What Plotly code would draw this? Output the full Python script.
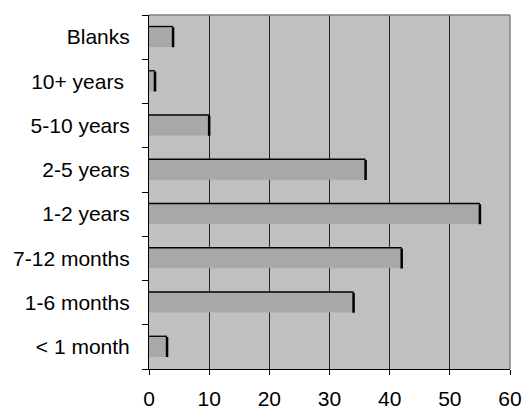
import plotly.graph_objects as go

categories = ["< 1 month", "1-6 months", "7-12 months", "1-2 years",
              "2-5 years", "5-10 years", "10+ years\u00a0", "Blanks"]
values = [3, 34, 42, 55, 36, 10, 1, 4]
x_ticks = [0, 10, 20, 30, 40, 50, 60]

BAR_W = 0.45

fig = go.Figure()
# black shadow bar (shows as a thin top edge)
fig.add_trace(go.Bar(
    y=categories, x=values, orientation="h",
    width=BAR_W, offset=-BAR_W / 2 + 0.03,
    marker=dict(color="#000000", line=dict(width=0)),
    hoverinfo="skip", showlegend=False,
))
# main gray bar with black right edge (error bar cap)
fig.add_trace(go.Bar(
    y=categories, x=values, orientation="h",
    width=BAR_W, offset=-BAR_W / 2,
    marker=dict(color="#A8A8A8", line=dict(width=0)),
    error_x=dict(type="constant", value=0, visible=True, color="#000000",
                 thickness=2.5, width=10),
    showlegend=False,
))

fig.update_layout(
    width=526, height=410,
    margin=dict(l=149, r=16, t=15, b=41),
    paper_bgcolor="#FFFFFF",
    plot_bgcolor="#C0C0C0",
    barmode="overlay",
    font=dict(family="Liberation Sans, Arial, sans-serif", size=21, color="#000000"),
    xaxis=dict(
        range=[0, 60], tickvals=x_ticks, ticktext=[str(v) for v in x_ticks],
        showgrid=True, gridcolor="#222222", gridwidth=1,
        showline=True, linecolor="#000000", linewidth=1,
        ticks="outside", ticklen=5, tickcolor="#000000",
        ticklabelstandoff=6,
        zeroline=False, fixedrange=True, automargin=False,
    ),
    yaxis=dict(
        type="category", categoryorder="array", categoryarray=categories,
        range=[-0.5, len(categories) - 0.5],
        showgrid=False, showline=True, linecolor="#000000", linewidth=1,
        ticks="outside", ticklen=6, tickcolor="#000000", tickson="boundaries",
        ticklabelstandoff=14, fixedrange=True, automargin=False,
    ),
    shapes=[
        dict(type="line", xref="paper", yref="paper", x0=0, x1=1, y0=1, y1=1,
             line=dict(color="#808080", width=1.5)),
        dict(type="line", xref="paper", yref="paper", x0=1, x1=1, y0=0, y1=1,
             line=dict(color="#808080", width=1.5)),
    ],
)

fig.write_html(
    "out.html",
    config={"displayModeBar": False},
    post_script="document.body.style.margin='0';document.body.style.overflow='hidden';",
)
